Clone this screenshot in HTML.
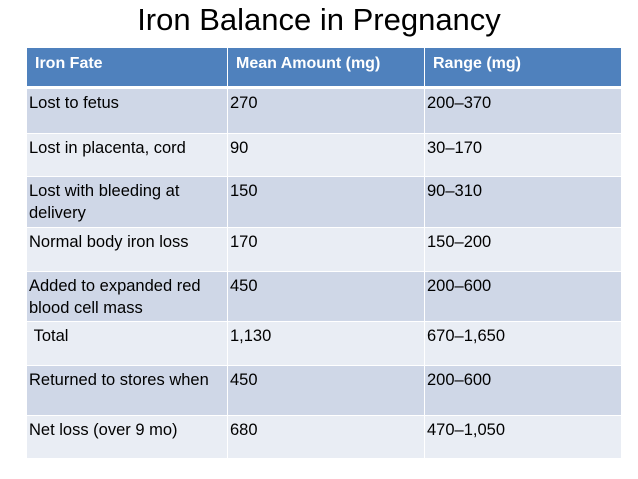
<!DOCTYPE html>
<html><head><meta charset="utf-8"><style>
body{margin:0;width:638px;height:479px;background:#fff;position:relative;overflow:hidden;font-family:"Liberation Sans",sans-serif}
#title{position:absolute;left:0;width:638px;top:2px;text-align:center;font-size:31px;color:#000}
.c{position:absolute;box-sizing:border-box;padding:3px 0 0 2px;font-size:16.5px;line-height:22px;color:#000;border-right:1px solid #fff;border-bottom:1px solid #fff}
.h{background:#4f81bd;color:#fff;font-weight:bold;padding:5px 0 0 8px;font-size:16px;border-bottom:3px solid #fff}
.o{background:#cfd7e7}.e{background:#e9edf4}
</style></head><body>
<div id="title">Iron Balance in Pregnancy</div>
<div id="t"></div>
<script>
const headers=["Iron Fate","Mean Amount (mg)","Range (mg)"];
const fates=["Lost to fetus","Lost in placenta, cord","Lost with bleeding at delivery","Normal body iron loss","Added to expanded red blood cell mass","\u00a0Total","Returned to stores when","Net loss (over 9 mo)"];
const means=["270","90","150","170","450","1,130","450","680"];
const ranges=["200–370","30–170","90–310","150–200","200–600","670–1,650","200–600","470–1,050"];
const colX=[27,228,425,622];
const rowY=[48,89,134,177,228,272,322,366,416,459];
const t=document.getElementById('t');
function cell(x0,x1,y0,y1,txt,cls,name){
 const d=document.createElement('div');
 d.className='c '+cls;
 d.style.left=x0+'px';d.style.width=(x1-x0)+'px';d.style.top=y0+'px';d.style.height=(y1-y0)+'px';
 d.textContent=txt;
 
 
 t.appendChild(d);
}
headers.forEach((h,i)=>cell(colX[i],colX[i+1],rowY[0],rowY[1],h,'h','header-cell'));
for(let r=0;r<fates.length;r++){
 const cls=r%2?'e':'o';
 const vals=[fates[r],means[r],ranges[r]];
 vals.forEach((v,i)=>cell(colX[i],colX[i+1],rowY[r+1],rowY[r+2],v,cls,['fate-cell','mean-cell','range-cell'][i]));
}
</script>
</body></html>
